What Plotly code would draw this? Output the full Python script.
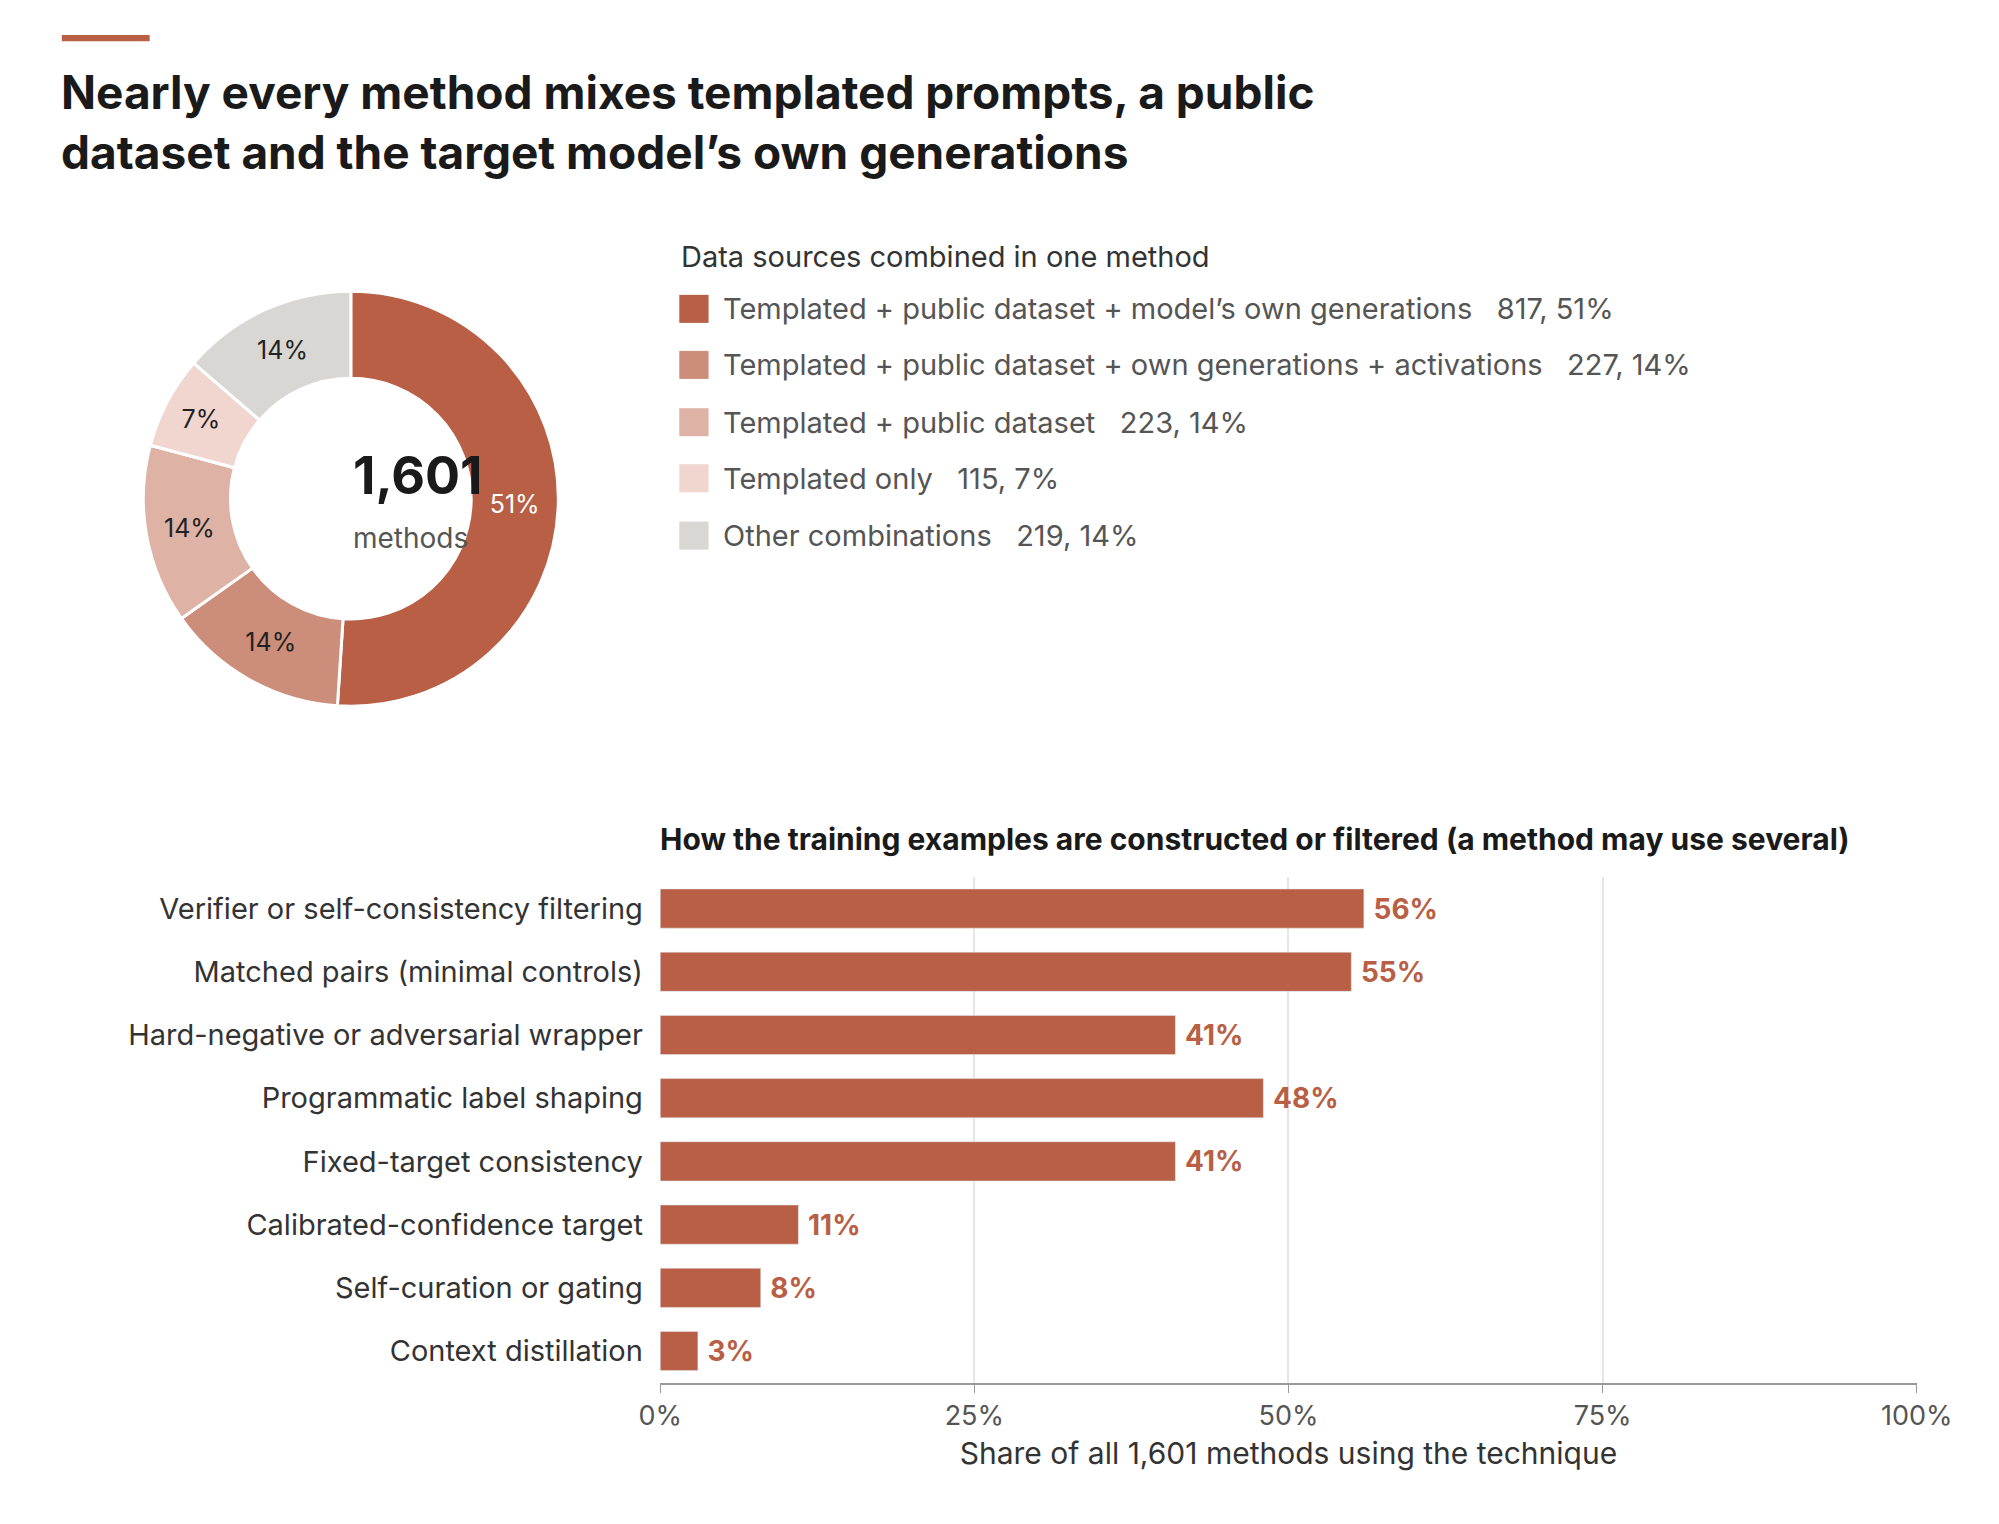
import plotly.graph_objects as go

# donut data
combo_labels = ["Templated + public dataset + model’s own generations",
                "Templated + public dataset + own generations + activations",
                "Templated + public dataset",
                "Templated only",
                "Other combinations"]
combo_counts = [817, 227, 223, 115, 219]
combo_pct = [51, 14, 14, 7, 14]
combo_colors = ["#b85f45", "#cc8d7a", "#deb3a6", "#f0d6cf", "#d9d7d3"]

# bar data
techniques = ["Verifier or self-consistency filtering", "Matched pairs (minimal controls)",
              "Hard-negative or adversarial wrapper", "Programmatic label shaping",
              "Fixed-target consistency", "Calibrated-confidence target",
              "Self-curation or gating", "Context distillation"]
technique_share = [56, 55, 41, 48, 41, 11, 8, 3]
x_ticks = [0, 25, 50, 75, 100]

W, H = 1999, 1524
FONT = "Inter, Noto Sans, sans-serif"
DARK = "#222222"
GREY = "#555555"
ACCENT = "#b85f45"


# layout positions measured on the reference view, mapped to paper fractions
def px(X):
    return (X - 23) * 1.281 / 0.977 / W


def py(Y):
    return 1 - (Y - 5.8) * 1.281 / 1.0057 / H


fig = go.Figure()

r_out = 163
fig.add_trace(go.Pie(
    labels=combo_labels, values=combo_counts, hole=0.58, sort=False,
    direction="clockwise", rotation=0,
    marker=dict(colors=combo_colors, line=dict(color="white", width=3)),
    text=[f"{p}%" for p in combo_pct], textinfo="text", textposition="inside",
    insidetextorientation="horizontal",
    textfont=dict(family=FONT, size=25, color=["white", DARK, DARK, DARK, DARK]),
    domain=dict(x=[px(275 - r_out), px(275 + r_out)], y=[py(391 + r_out), py(391 - r_out)]),
    showlegend=False, hoverinfo="label+value",
))

fig.add_trace(go.Bar(
    y=techniques, x=technique_share, orientation="h",
    marker_color=ACCENT, width=0.62,
    text=[f"<b>\u00a0{v}%</b>" for v in technique_share], textposition="outside",
    textfont=dict(family=FONT, size=28, color=ACCENT), cliponaxis=False,
    showlegend=False, xaxis="x", yaxis="y",
))

fig.update_layout(
    width=W, height=H, margin=dict(l=0, r=0, t=0, b=0),
    paper_bgcolor="white", plot_bgcolor="white",
    font=dict(family=FONT, color=DARK),
    xaxis=dict(domain=[px(518), px(1505)], range=[0, 100], tickvals=x_ticks,
               ticktext=[f"{t}%" for t in x_ticks], showgrid=True, gridcolor="#e6e6e6",
               gridwidth=1.5, zeroline=False, showline=True, linecolor="#999999", linewidth=2,
               ticks="outside", tickcolor="#999999", ticklen=8,
               tickfont=dict(size=27, color=GREY),
               title=dict(text="Share of all 1,601 methods using the technique",
                          font=dict(size=30, color="#333333"), standoff=12)),
    yaxis=dict(domain=[py(1085), py(688)], autorange="reversed",
               tickfont=dict(size=29, color="#333333"), ticksuffix="  ", showgrid=False),
)

shapes = [dict(type="rect", xref="paper", yref="paper", x0=px(48), x1=px(117),
               y0=py(32), y1=py(27), fillcolor=ACCENT, line_width=0)]
annotations = [
    dict(text="<b>Nearly every method mixes templated prompts, a public<br>dataset and the target model’s own generations</b>",
         x=px(46), y=py(48), xref="paper", yref="paper", xanchor="left", yanchor="top",
         align="left", showarrow=False, font=dict(size=46, color="#1a1a1a")),
    dict(text="<b>1,601</b>", x=px(275), y=py(373), xref="paper", yref="paper",
         yanchor="middle", showarrow=False, font=dict(size=52, color="#1a1a1a")),
    dict(text="methods", x=px(275), y=py(422), xref="paper", yref="paper",
         yanchor="middle", showarrow=False, font=dict(size=28, color=GREY)),
    dict(text="Data sources combined in one method", x=px(533), y=py(201),
         xref="paper", yref="paper", xanchor="left", yanchor="middle", showarrow=False,
         font=dict(size=29, color="#333333")),
    dict(text="<b>How the training examples are constructed or filtered (a method may use several)</b>",
         x=px(516), y=py(658), xref="paper", yref="paper", xanchor="left", yanchor="middle",
         showarrow=False, font=dict(size=30, color="#1a1a1a")),
]
row_y = [242, 286, 331, 375, 420]
for lab, n, p, c, yy in zip(combo_labels, combo_counts, combo_pct, combo_colors, row_y):
    shapes.append(dict(type="rect", xref="paper", yref="paper", x0=px(533), x1=px(556),
                       y0=py(yy + 11), y1=py(yy - 11), fillcolor=c, line_width=0))
    annotations.append(dict(text=f"{lab}   {n}, {p}%", x=px(566), y=py(yy),
                            xref="paper", yref="paper", xanchor="left", yanchor="middle",
                            showarrow=False, font=dict(size=29, color=GREY)))
fig.update_layout(shapes=shapes, annotations=annotations)

fig.write_html("out.html")
